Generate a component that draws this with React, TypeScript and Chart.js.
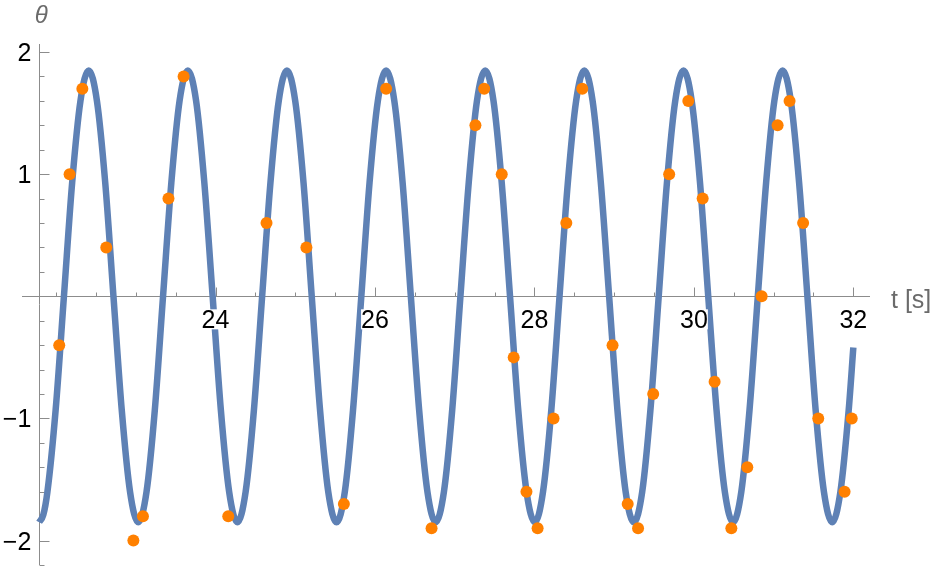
import React, { useEffect, useRef } from "react";
import { Chart, registerables } from "chart.js";

Chart.register(...registerables);

// Orange measured points (t in s, theta in rad)
const dotT = [
  22.04, 22.17, 22.33, 22.63, 22.97, 23.09, 23.41, 23.60, 24.16, 24.64,
  25.14, 25.61, 26.14, 26.71, 27.26, 27.37, 27.59, 27.74, 27.90, 28.04,
  28.24, 28.40, 28.60, 28.98, 29.17, 29.30, 29.49, 29.69, 29.93, 30.11,
  30.26, 30.47, 30.67, 30.85, 31.05, 31.20, 31.37, 31.56, 31.89, 31.98,
];
const dotTheta = [
  -0.4, 1.0, 1.7, 0.4, -2.0, -1.8, 0.8, 1.8, -1.8, 0.6,
  0.4, -1.7, 1.7, -1.9, 1.4, 1.7, 1.0, -0.5, -1.6, -1.9,
  -1.0, 0.6, 1.7, -0.4, -1.7, -1.9, -0.8, 1.0, 1.6, 0.8,
  -0.7, -1.9, -1.4, 0.0, 1.4, 1.6, 0.6, -1.0, -1.6, -1.0,
];

const curveT = [
  21.788, 21.840, 21.892, 21.995, 22.099, 22.202, 22.306, 22.410, 22.513, 22.617, 22.720, 22.824, 22.928,
  23.031, 23.135, 23.239, 23.342, 23.446, 23.549, 23.653, 23.757, 23.860, 23.964, 24.067, 24.171,
  24.275, 24.378, 24.482, 24.585, 24.689, 24.793, 24.896, 25.000, 25.104, 25.207, 25.311, 25.414,
  25.518, 25.622, 25.725, 25.829, 25.932, 26.036, 26.140, 26.243, 26.347, 26.450, 26.554, 26.658,
  26.761, 26.865, 26.969, 27.072, 27.176, 27.279, 27.383, 27.487, 27.590, 27.694, 27.797, 27.901,
  28.005, 28.108, 28.212, 28.315, 28.419, 28.523, 28.626, 28.730, 28.833, 28.937, 29.041, 29.144,
  29.248, 29.352, 29.455, 29.559, 29.662, 29.766, 29.870, 29.973, 30.077, 30.180, 30.284, 30.388,
  30.491, 30.595, 30.698, 30.802, 30.906, 31.009, 31.113, 31.216, 31.320, 31.424, 31.527, 31.631,
  31.735, 31.838, 31.942, 32.000,
];
const curveTheta = [
  -1.85, -1.79, -1.60, -0.93, 0, 0.93, 1.60, 1.85, 1.60, 0.93, 0, -0.93, -1.60,
  -1.85, -1.60, -0.93, 0, 0.93, 1.60, 1.85, 1.60, 0.93, 0, -0.93, -1.60,
  -1.85, -1.60, -0.93, 0, 0.93, 1.60, 1.85, 1.60, 0.93, 0, -0.93, -1.60,
  -1.85, -1.60, -0.93, 0, 0.93, 1.60, 1.85, 1.60, 0.93, 0, -0.93, -1.60,
  -1.85, -1.60, -0.93, 0, 0.93, 1.60, 1.85, 1.60, 0.93, 0, -0.93, -1.60,
  -1.85, -1.60, -0.93, 0, 0.93, 1.60, 1.85, 1.60, 0.93, 0, -0.93, -1.60,
  -1.85, -1.60, -0.93, 0, 0.93, 1.60, 1.85, 1.60, 0.93, 0, -0.93, -1.60,
  -1.85, -1.60, -0.93, 0, 0.93, 1.60, 1.85, 1.60, 0.93, 0, -0.93, -1.60,
  -1.85, -1.60, -0.93, -0.42,
];

// Axes and ticks
const axisOriginT = 21.79;
const xRange = [21.573, 32.209];
const yRange = [-2.2, 2.066];
const xMajorTicks = [24, 26, 28, 30, 32];
const xTickLabels = ["24", "26", "28", "30", "32"];
const xMinorStep = 0.5;
const yMajorTicks = [2, 1, -1, -2];
const yTickLabels = ["2", "1", "\u22121", "\u22122"];
const yMinorStep = 0.2;
const xAxisTitle = "t [s]";
const yAxisTitle = "\u03b8";

const FONT = '"Liberation Sans", Arial, "DejaVu Sans", sans-serif';
const AXIS_COLOR = "#8c8c8c";

const axesPlugin = {
  id: "mmaAxes",
  beforeDatasetsDraw(chart: any) {
    const { ctx } = chart;
    const x = chart.scales.x;
    const y = chart.scales.y;
    const x0 = Math.round(x.getPixelForValue(axisOriginT)) + 0.5;
    const y0 = Math.round(y.getPixelForValue(0)) + 0.5;
    ctx.save();
    ctx.strokeStyle = AXIS_COLOR;
    ctx.lineWidth = 1;
    ctx.beginPath();
    ctx.moveTo(x.left, y0);
    ctx.lineTo(x.right, y0);
    ctx.moveTo(x0, y.top);
    ctx.lineTo(x0, y.bottom);
    for (let t = 22; t <= xRange[1] + 1e-9; t += xMinorStep) {
      const isMajor = xMajorTicks.some((m) => Math.abs(m - t) < 1e-6);
      const px = Math.round(x.getPixelForValue(t)) + 0.5;
      const len = isMajor ? 9 : 4;
      ctx.moveTo(px, y0);
      ctx.lineTo(px, y0 - len);
    }
    for (let k = -11; k <= 10; k++) {
      const v = k * yMinorStep;
      if (Math.abs(v) < 1e-9) continue;
      const isMajor = yMajorTicks.some((m) => Math.abs(m - v) < 1e-6);
      const py = Math.round(y.getPixelForValue(v)) + 0.5;
      const len = isMajor ? 10 : 5;
      ctx.moveTo(x0, py);
      ctx.lineTo(x0 + len, py);
    }
    ctx.stroke();
    ctx.restore();
  },
  afterDatasetsDraw(chart: any) {
    const { ctx } = chart;
    const x = chart.scales.x;
    const y = chart.scales.y;
    const x0 = x.getPixelForValue(axisOriginT);
    const y0 = y.getPixelForValue(0);
    ctx.save();
    ctx.font = `25px ${FONT}`;
    ctx.textAlign = "center";
    ctx.textBaseline = "alphabetic";
    xMajorTicks.forEach((t, i) => {
      const px = x.getPixelForValue(t);
      const by = y0 + 32;
      const m = ctx.measureText(xTickLabels[i]);
      ctx.fillStyle = "#ffffff";
      ctx.fillRect(
        px - m.actualBoundingBoxLeft - 1,
        by - m.actualBoundingBoxAscent - 1,
        m.actualBoundingBoxLeft + m.actualBoundingBoxRight + 2,
        m.actualBoundingBoxAscent + m.actualBoundingBoxDescent + 2
      );
      ctx.fillStyle = "#000000";
      ctx.fillText(xTickLabels[i], px, by);
    });
    ctx.textAlign = "right";
    yMajorTicks.forEach((v, i) => {
      const py = y.getPixelForValue(v);
      ctx.fillStyle = "#000000";
      ctx.fillText(yTickLabels[i], x0 - 8, py + 9);
    });
    ctx.fillStyle = "#6b6b6b";
    ctx.textAlign = "left";
    ctx.font = `25px ${FONT}`;
    ctx.fillText(xAxisTitle, x.right + 21, y0 + 12);
    ctx.font = `italic 24px ${FONT}`;
    ctx.textAlign = "center";
    ctx.fillText(yAxisTitle, x0 + 2, 23);
    ctx.restore();
  },
};

export default function App() {
  const canvasRef = useRef<HTMLCanvasElement | null>(null);

  useEffect(() => {
    const canvas = canvasRef.current;
    if (!canvas) return;
    const chart = new Chart(canvas, {
      type: "line",
      data: {
        datasets: [
          {
            label: "data",
            data: dotT.map((t, i) => ({ x: t, y: dotTheta[i] })),
            showLine: false,
            pointRadius: 6,
            pointBackgroundColor: "#ff8000",
            pointBorderWidth: 0,
            pointBorderColor: "#ff8000",
          },
          {
            label: "fit",
            data: curveT.map((t, i) => ({ x: t, y: curveTheta[i] })),
            borderColor: "#5e81b5",
            borderWidth: 6.5,
            pointRadius: 0,
            fill: false,
            cubicInterpolationMode: "monotone",
            borderJoinStyle: "round",
            borderCapStyle: "butt",
          },
        ],
      },
      options: {
        animation: false,
        responsive: false,
        devicePixelRatio: 1,
        events: [],
        layout: { padding: { left: 22, right: 65, top: 44, bottom: 3.5 } },
        plugins: {
          legend: { display: false },
          tooltip: { enabled: false },
          title: { display: false },
        },
        scales: {
          x: { type: "linear", min: xRange[0], max: xRange[1], display: false },
          y: { type: "linear", min: yRange[0], max: yRange[1], display: false },
        },
      },
      plugins: [axesPlugin],
    } as any);
    return () => chart.destroy();
  }, []);

  return (
    <div style={{ position: "absolute", left: 0, top: 0, width: 935, height: 571, background: "#fff" }}>
      <canvas ref={canvasRef} width={935} height={571} style={{ width: 935, height: 571, display: "block" }} />
    </div>
  );
}
